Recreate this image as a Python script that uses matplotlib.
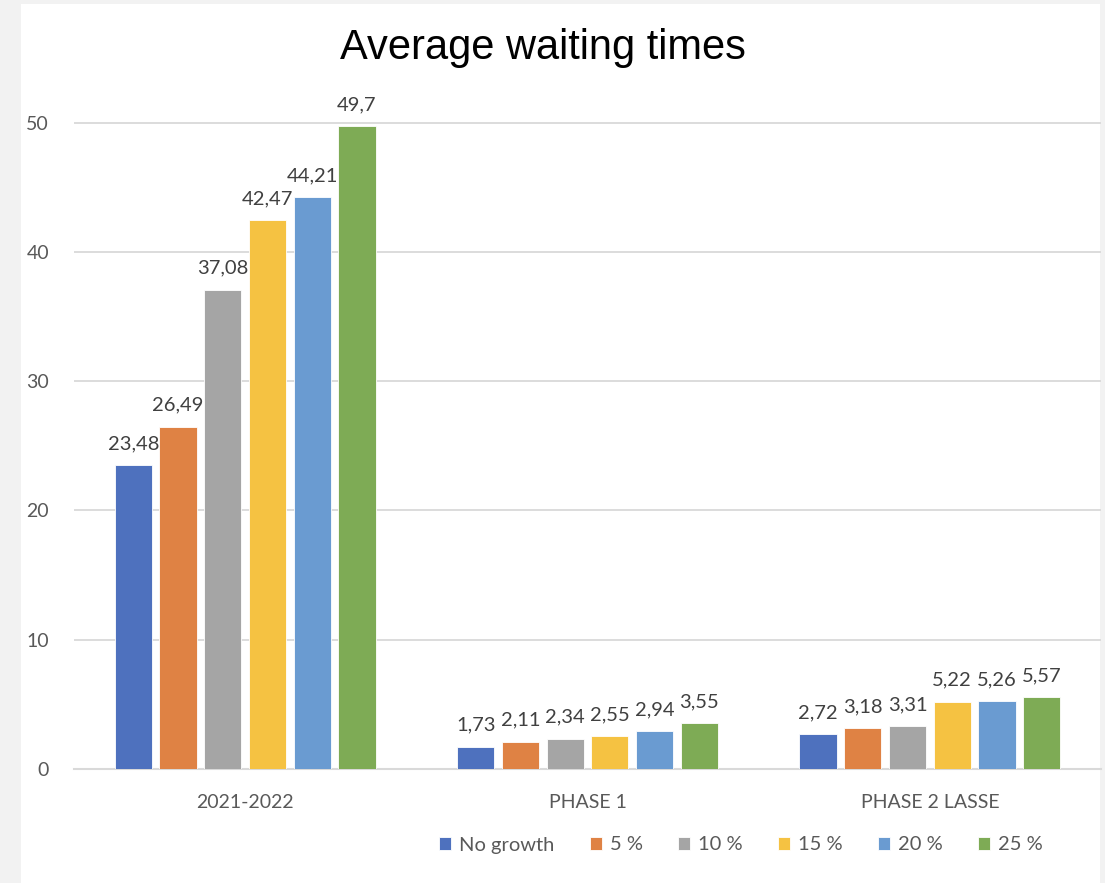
import numpy as np
import matplotlib.pyplot as plt
from matplotlib.patches import Rectangle

categories = ["2021-2022", "PHASE 1", "PHASE 2 LASSE"]
series_names = ["No growth", "5 %", "10 %", "15 %", "20 %", "25 %"]
no_growth = [23.48, 1.73, 2.72]
growth_5 = [26.49, 2.11, 3.18]
growth_10 = [37.08, 2.34, 3.31]
growth_15 = [42.47, 2.55, 5.22]
growth_20 = [44.21, 2.94, 5.26]
growth_25 = [49.7, 3.55, 5.57]
colors = ["#4e71be", "#df8244", "#a5a5a5", "#f5c242", "#6a9bd1", "#7eab55"]

all_series = [no_growth, growth_5, growth_10, growth_15, growth_20, growth_25]

plt.rcParams["font.family"] = ["Lato", "DejaVu Sans"]

fig = plt.figure(figsize=(11.05, 8.83), dpi=100)
fig.patch.set_facecolor("#f2f2f2")
# white chart panel
fig.patches.append(Rectangle((21 / 1105, 0), (1100 - 21) / 1105, 1 - 4 / 883,
                             transform=fig.transFigure, facecolor="white",
                             edgecolor="none", zorder=-10))

ax = fig.add_axes([74 / 1105, 1 - 769 / 883, (1101 - 74) / 1105, (769 - 120) / 883])
ax.set_facecolor("none")

x = np.arange(len(categories))
width = 0.109
pitch = 0.1305
for i, (vals, name, c) in enumerate(zip(all_series, series_names, colors)):
    pos = x + (i - 2.5) * pitch
    bars = ax.bar(pos, vals, width, color=c, label=name, edgecolor="white",
                  linewidth=0.6, zorder=3)
    for b, v in zip(bars, vals):
        ax.text(b.get_x() + b.get_width() / 2, v + 1.0, f"{v:g}".replace(".", ","),
                ha="center", va="bottom", fontsize=14.5, color="#404040", clip_on=False)

ax.set_xlim(-0.5, 2.5)
ax.set_ylim(0, 50.2)
ax.set_yticks([0, 10, 20, 30, 40, 50])
ax.yaxis.grid(True, color="#d9d9d9", linewidth=1.3, zorder=0)
ax.set_axisbelow(True)
for s in ["top", "right", "left"]:
    ax.spines[s].set_visible(False)
ax.spines["bottom"].set_color("#d9d9d9")
ax.spines["bottom"].set_linewidth(1.5)
ax.tick_params(axis="both", length=0, labelsize=14, labelcolor="#595959")
ax.tick_params(axis="y", pad=18)
ax.tick_params(axis="x", pad=18)
ax.set_xticks(x)
ax.set_xticklabels(categories)

fig.text(543 / 1105, 1 - 48 / 883, "Average waiting times", ha="center", va="center",
         fontsize=30, family="Liberation Sans", color="black")

ax.legend(loc="center", bbox_to_anchor=(741 / 1105, 1 - 845 / 883),
          bbox_transform=fig.transFigure, ncol=6, frameon=False, fontsize=14.5,
          handlelength=0.6, handleheight=0.6, handletextpad=0.4, columnspacing=1.75,
          labelcolor="#595959")

fig.savefig("out.png", dpi=100, facecolor=fig.get_facecolor())
